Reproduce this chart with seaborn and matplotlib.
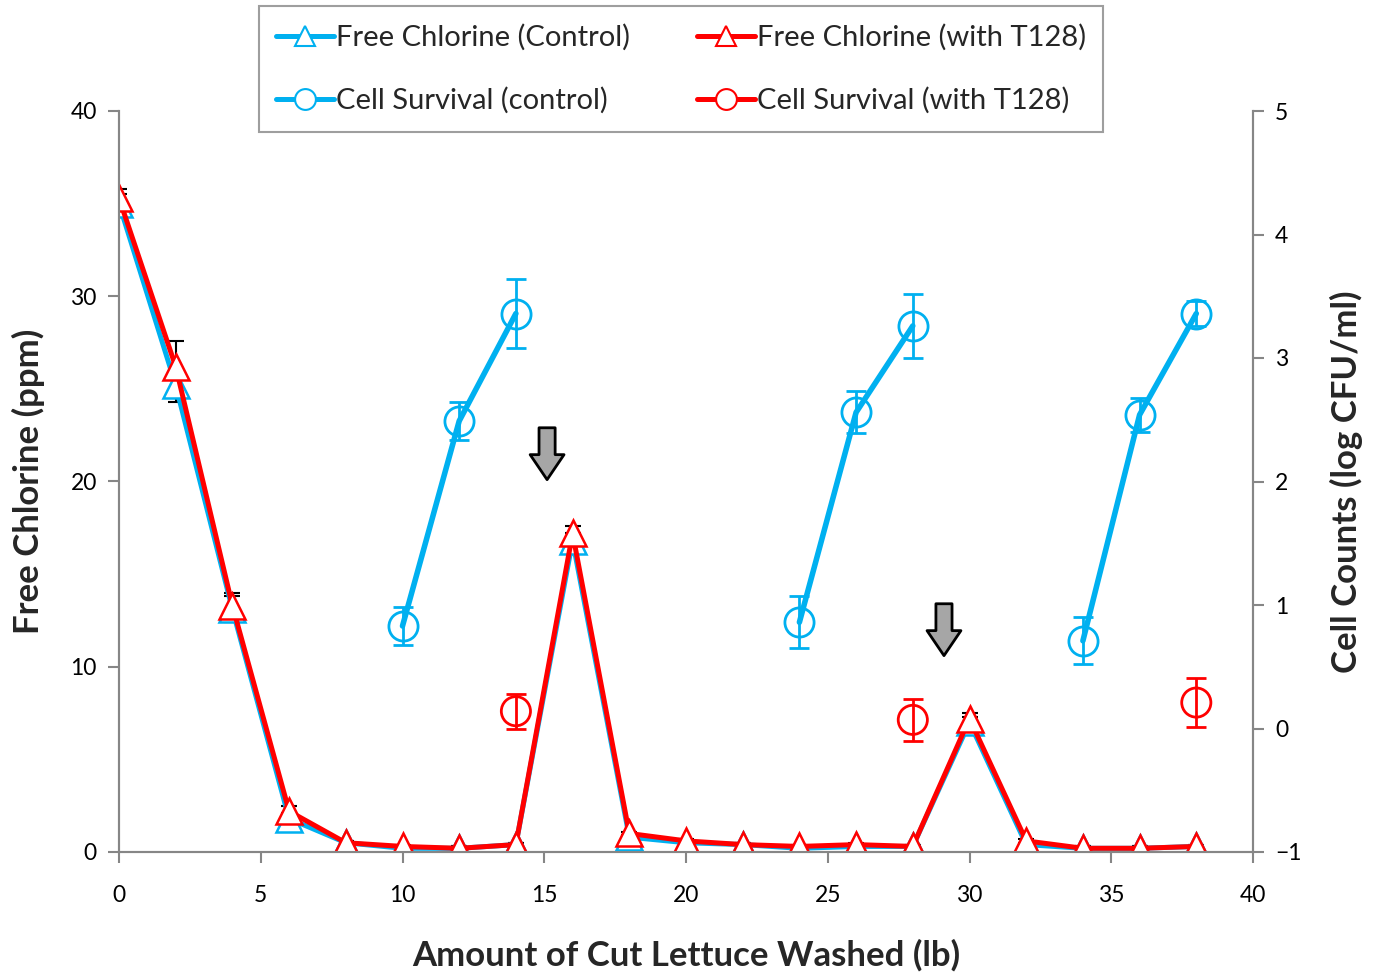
import numpy as np
import pandas as pd
import matplotlib
matplotlib.use("Agg")
import matplotlib.pyplot as plt
import seaborn as sns
from matplotlib.lines import Line2D

# Amount of cut lettuce washed (lb)
lettuce_lb = [0, 2, 4, 6, 8, 10, 12, 14, 16, 18, 20, 22, 24, 26, 28, 30, 32, 34, 36, 38]

# Free chlorine (ppm)
chlorine_control = [35.0, 25.2, 13.1, 1.8, 0.5, 0.2, 0.2, 0.4, 16.8, 0.8, 0.5, 0.4, 0.2, 0.3, 0.3, 7.0, 0.4, 0.2, 0.2, 0.3]
chlorine_control_err = [0.5, 0.9, 0.7, 0.3, 0.1, 0.1, 0.1, 0.1, 0.4, 0.1, 0.1, 0.1, 0.1, 0.1, 0.1, 0.3, 0.1, 0.1, 0.1, 0.1]
chlorine_t128 = [35.3, 26.2, 13.3, 2.2, 0.5, 0.3, 0.2, 0.4, 17.2, 1.0, 0.6, 0.4, 0.3, 0.4, 0.3, 7.2, 0.6, 0.2, 0.2, 0.3]
chlorine_t128_err = [0.5, 1.4, 0.7, 0.3, 0.1, 0.1, 0.1, 0.1, 0.4, 0.1, 0.1, 0.1, 0.1, 0.1, 0.1, 0.3, 0.1, 0.1, 0.1, 0.1]

# Cell survival (log CFU/ml), control: three runs of three samples
survival_control_lb = [10, 12, 14, 24, 26, 28, 34, 36, 38]
survival_control_run = [1, 1, 1, 2, 2, 2, 3, 3, 3]
survival_control = [0.83, 2.49, 3.36, 0.86, 2.56, 3.26, 0.71, 2.54, 3.36]
survival_control_err = [0.15, 0.15, 0.28, 0.21, 0.17, 0.26, 0.19, 0.14, 0.10]

# Cell survival (log CFU/ml), with T128
survival_t128_lb = [14, 28, 38]
survival_t128 = [0.14, 0.07, 0.21]
survival_t128_err = [0.14, 0.17, 0.20]

# Chlorine replenishment points
dose_lb = [15.1, 29.1]
dose_tail = [22.9, 13.4]
dose_tip = [20.1, 10.6]

BLUE = "#00B0F0"
RED = "#FF0000"
GREY = "#868686"

sns.set_theme(style="white")
plt.rcParams["font.family"] = ["Lato", "DejaVu Sans"]

fig = plt.figure(figsize=(13.73, 9.77), dpi=100)
ax = fig.add_axes([119 / 1373, 1 - 852 / 977, (1253 - 119) / 1373, (852 - 111) / 977])
ax2 = ax.twinx()

chl = pd.DataFrame({
    "lb": lettuce_lb * 2,
    "ppm": chlorine_control + chlorine_t128,
    "err": chlorine_control_err + chlorine_t128_err,
    "group": ["Free Chlorine (Control)"] * len(lettuce_lb) + ["Free Chlorine (with T128)"] * len(lettuce_lb),
})

tri_kw = dict(marker="^", markersize=19, markerfacecolor="white", markeredgewidth=1.8)

for grp, col in [("Free Chlorine (Control)", BLUE), ("Free Chlorine (with T128)", RED)]:
    d = chl[chl["group"] == grp]
    ax.errorbar(d["lb"], d["ppm"], yerr=d["err"], fmt="none", ecolor="black",
                elinewidth=1.5, capsize=6, capthick=1.5, zorder=2)
    sns.lineplot(data=d, x="lb", y="ppm", ax=ax, color=col, linewidth=3.6,
                 markeredgecolor=col, zorder=3, **tri_kw)

surv_c = pd.DataFrame({"lb": survival_control_lb, "log": survival_control,
                       "err": survival_control_err, "run": survival_control_run})
surv_t = pd.DataFrame({"lb": survival_t128_lb, "log": survival_t128, "err": survival_t128_err})

circ_kw = dict(marker="o", markersize=21, markerfacecolor="none", markeredgewidth=2)

ax2.errorbar(surv_c["lb"], surv_c["log"], yerr=surv_c["err"], fmt="none", ecolor=BLUE,
             elinewidth=2, capsize=7, capthick=2, zorder=2)
sns.lineplot(data=surv_c, x="lb", y="log", units="run", estimator=None, ax=ax2,
             color=BLUE, linewidth=4, markeredgecolor=BLUE, zorder=3, **circ_kw)
ax2.errorbar(surv_t["lb"], surv_t["log"], yerr=surv_t["err"], fmt="none", ecolor=RED,
             elinewidth=2, capsize=7, capthick=2, zorder=2)
sns.scatterplot(data=surv_t, x="lb", y="log", ax=ax2, s=441, marker="o",
                facecolor="none", edgecolor=RED, linewidth=2, zorder=3)

# Block arrows marking chlorine additions
for xa, yt, yh in zip(dose_lb, dose_tail, dose_tip):
    ax.annotate("", xy=(xa, yh), xytext=(xa, yt),
                arrowprops=dict(arrowstyle="simple,head_width=0.61,head_length=0.45,tail_width=0.29",
                                mutation_scale=40, fc="#A6A6A6", ec="black", lw=2,
                                shrinkA=0, shrinkB=0))

# Axes
ax.set_xlim(0, 40)
ax.set_ylim(0, 40)
ax2.set_ylim(-1, 5)
ax.set_xticks(range(0, 41, 5))
ax.set_yticks(range(0, 41, 10))
ax2.set_yticks(range(-1, 6))

for a in (ax, ax2):
    a.spines["top"].set_visible(False)
    for s in ("left", "right", "bottom"):
        a.spines[s].set_color(GREY)
        a.spines[s].set_linewidth(1.5)
    a.tick_params(colors=GREY, labelcolor="black", labelsize=16.5, length=8, width=1.5, pad=8)
ax.tick_params(axis="x", direction="out", bottom=True, pad=15.5)
ax.tick_params(axis="y", direction="out", left=True)
ax2.tick_params(axis="y", direction="out", right=True)
ax.grid(False)
ax2.grid(False)

ax.set_xlabel("Amount of Cut Lettuce Washed (lb)", fontsize=25, fontweight="bold", labelpad=24)
ax.set_ylabel("Free Chlorine (ppm)", fontsize=25, fontweight="bold", labelpad=18)
ax2.set_ylabel("Cell Counts (log CFU/ml)", fontsize=25, fontweight="bold", labelpad=20)

legend_handles = [
    Line2D([], [], color=BLUE, lw=3.6, marker="^", markersize=14, markerfacecolor="white",
           markeredgecolor=BLUE, markeredgewidth=1.5),
    Line2D([], [], color=BLUE, lw=3.6, marker="o", markersize=15, markerfacecolor="white",
           markeredgecolor=BLUE, markeredgewidth=1.5),
    Line2D([], [], color=RED, lw=3.6, marker="^", markersize=14, markerfacecolor="white",
           markeredgecolor=RED, markeredgewidth=1.5),
    Line2D([], [], color=RED, lw=3.6, marker="o", markersize=15, markerfacecolor="white",
           markeredgecolor=RED, markeredgewidth=1.5),
]
legend_labels = ["Free Chlorine (Control)", "Cell Survival (control)",
                 "Free Chlorine (with T128)", "Cell Survival (with T128)"]
leg = fig.legend(legend_handles, legend_labels, ncol=2, loc="center",
                 bbox_to_anchor=(681 / 1373, 1 - 69 / 977), fontsize=21, frameon=True,
                 fancybox=False, edgecolor=GREY, handlelength=2.0, handletextpad=0.05,
                 columnspacing=2.3, labelspacing=1.25, borderpad=0.6, borderaxespad=0)
leg.get_frame().set_linewidth(1.5)
ax.get_legend() and ax.get_legend().remove()
ax2.get_legend() and ax2.get_legend().remove()

fig.savefig("out.png", dpi=100)
